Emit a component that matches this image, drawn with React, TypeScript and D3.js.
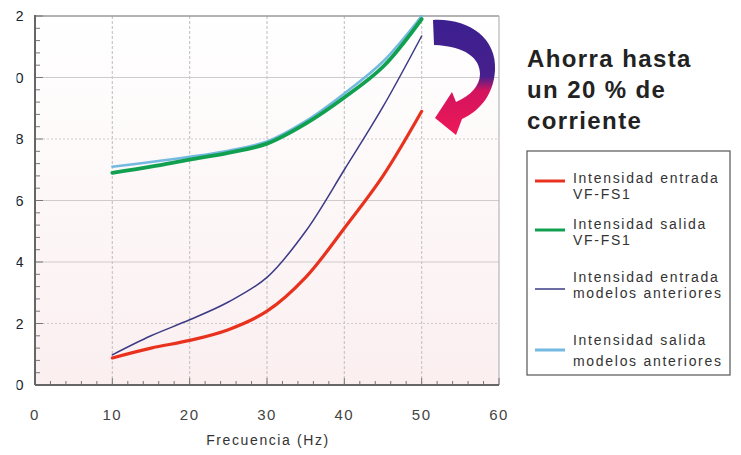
import * as d3 from "d3";

const freq = [10, 15, 20, 25, 30, 35, 40, 45, 50];
const entradaVF = [0.88, 1.2, 1.45, 1.8, 2.4, 3.5, 5.1, 6.8, 8.9];
const salidaVF = [6.9, 7.1, 7.33, 7.55, 7.85, 8.5, 9.35, 10.35, 11.9];
const entradaAnt = [0.98, 1.6, 2.12, 2.7, 3.5, 5.0, 7.0, 9.05, 11.35];
const salidaAnt = [7.1, 7.25, 7.42, 7.62, 7.92, 8.58, 9.48, 10.52, 12.0];

const xTicks = [0, 10, 20, 30, 40, 50, 60];
const yTicks = [0, 2, 4, 6, 8, 10, 12];
const dottedY = [2, 8];

const titleLines = ["Ahorra hasta", "un 20 % de", "corriente"];

const series = [
  { key: "salidaAnt", values: salidaAnt, color: "#74b9e0", width: 2.5, label: ["Intensidad salida", "modelos anteriores"] },
  { key: "salidaVF", values: salidaVF, color: "#10a050", width: 3.8, label: ["Intensidad salida", "VF-FS1"] },
  { key: "entradaAnt", values: entradaAnt, color: "#3b3a85", width: 1.5, label: ["Intensidad entrada", "modelos anteriores"] },
  { key: "entradaVF", values: entradaVF, color: "#e8321e", width: 3.2, label: ["Intensidad entrada", "VF-FS1"] },
];
const legendOrder = ["entradaVF", "salidaVF", "entradaAnt", "salidaAnt"];

export default function App() {
  const width = 741;
  const height = 455;
  const left = 35;
  const right = 499;
  const top = 16;
  const bottom = 385;

  const x = d3.scaleLinear().domain([0, 60]).range([left, right]);
  const y = d3.scaleLinear().domain([0, 12]).range([bottom, top]);

  const line = d3
    .line<number>()
    .x((_, i) => x(freq[i]))
    .y((d) => y(d))
    .curve(d3.curveCatmullRom.alpha(0.5));

  const minorY = d3.range(0, 12.01, 0.4);
  const minorX = d3.range(0, 60.01, 2);

  const font = "'Liberation Sans', Arial, sans-serif";

  return (
    <svg
      width={width}
      height={height}
      style={{ position: "absolute", left: 0, top: 0, background: "#fff" }}
      fontFamily={font}
    >
      <defs>
        <linearGradient id="plotBg" x1="0" y1="0" x2="0" y2="1">
          <stop offset="0" stopColor="#ffffff" />
          <stop offset="1" stopColor="#fbeff0" />
        </linearGradient>
        <linearGradient id="arrowGrad" gradientUnits="userSpaceOnUse" x1="0" y1="18" x2="0" y2="135">
          <stop offset="0" stopColor="#3c1f90" />
          <stop offset="0.5" stopColor="#46208c" />
          <stop offset="0.62" stopColor="#d3145e" />
          <stop offset="1" stopColor="#ee1858" />
        </linearGradient>
        <clipPath id="yLabClip">
          <rect x={16.5} y={0} width={20} height={height} />
        </clipPath>
      </defs>

      <rect x={left} y={top} width={right - left} height={bottom - top} fill="url(#plotBg)" />

      {xTicks.slice(1, -1).map((t) => (
        <line key={"gx" + t} x1={x(t)} x2={x(t)} y1={top} y2={bottom} stroke="#c9c6c6" strokeWidth={1.2} strokeDasharray="3,2" />
      ))}
      {yTicks.slice(1, -1).map((t) => (
        <line
          key={"gy" + t}
          x1={left}
          x2={right}
          y1={y(t)}
          y2={y(t)}
          stroke="#cfcbcb"
          strokeWidth={1.2}
          strokeDasharray={dottedY.includes(t) ? "2,2" : undefined}
        />
      ))}

      <line x1={left} x2={right} y1={top} y2={top} stroke="#9a9a9a" strokeWidth={1.5} />
      <line x1={right} x2={right} y1={top} y2={bottom} stroke="#b5b5b5" strokeWidth={1.2} />

      {minorY.map((t) => (
        <line key={"ty" + t} x1={left} x2={left + (Math.abs(t % 2) < 0.01 ? 8 : 5)} y1={y(t)} y2={y(t)} stroke="#777" strokeWidth={1} />
      ))}
      {minorX.map((t) => (
        <line key={"tx" + t} x1={x(t)} x2={x(t)} y1={bottom} y2={bottom - (t % 10 === 0 ? 7 : 4)} stroke="#777" strokeWidth={1} />
      ))}

      <line x1={left} x2={left} y1={top - 1} y2={bottom} stroke="#666" strokeWidth={2} />
      <line x1={left} x2={right} y1={bottom} y2={bottom} stroke="#666" strokeWidth={2} />

      {series.map((s) => (
        <path key={s.key} d={line(s.values) || ""} fill="none" stroke={s.color} strokeWidth={s.width} strokeLinecap="round" />
      ))}

      <g clipPath="url(#yLabClip)">
        {yTicks.map((t) => (
          <text key={"ly" + t} x={23.5} y={y(t)} dy="0.36em" textAnchor="end" fontSize={15} fill="#222">
            {t}
          </text>
        ))}
      </g>

      {xTicks.map((t) => (
        <text key={"lx" + t} x={x(t)} y={415} dy="0.36em" textAnchor="middle" fontSize={15} fill="#444" letterSpacing={1.5}>
          {t}
        </text>
      ))}
      <text x={268} y={440} dy="0.36em" textAnchor="middle" fontSize={14} fill="#333" letterSpacing={1.6}>
        Frecuencia (Hz)
      </text>

      <path
        d="M 433 20 C 468 18, 497 38, 495 70 C 494 92, 482 110, 462 119 L 456 135 L 435 118 L 452 92 L 456 102 C 470 96, 480 86, 480 74 C 480 58, 465 46, 434 45 Z"
        fill="url(#arrowGrad)"
      />

      {titleLines.map((l, i) => (
        <text key={l} x={527} y={67 + i * 31} fontSize={24} fontWeight="bold" fill="#222" letterSpacing={1.4}>
          {l}
        </text>
      ))}

      <rect x={527} y={151} width={203} height={224} fill="#fff" stroke="#555" strokeWidth={1.2} />
      {legendOrder.map((k, i) => {
        const s = series.find((d) => d.key === k)!;
        const rowY = [178, 224, 277, 340][i];
        const lineY = [181, 230, 289, 350][i];
        const gap = i === 3 ? 21 : 16;
        return (
          <g key={"lg" + k}>
            <line x1={535} x2={565} y1={lineY} y2={lineY} stroke={s.color} strokeWidth={s.width === 1.5 ? 1.5 : 3} />
            <text x={573} y={rowY} dy="0.36em" fontSize={14} fill="#333" letterSpacing={1.7}>
              {s.label[0]}
            </text>
            <text x={573} y={rowY + gap} dy="0.36em" fontSize={14} fill="#333" letterSpacing={1.7}>
              {s.label[1]}
            </text>
          </g>
        );
      })}
    </svg>
  );
}
